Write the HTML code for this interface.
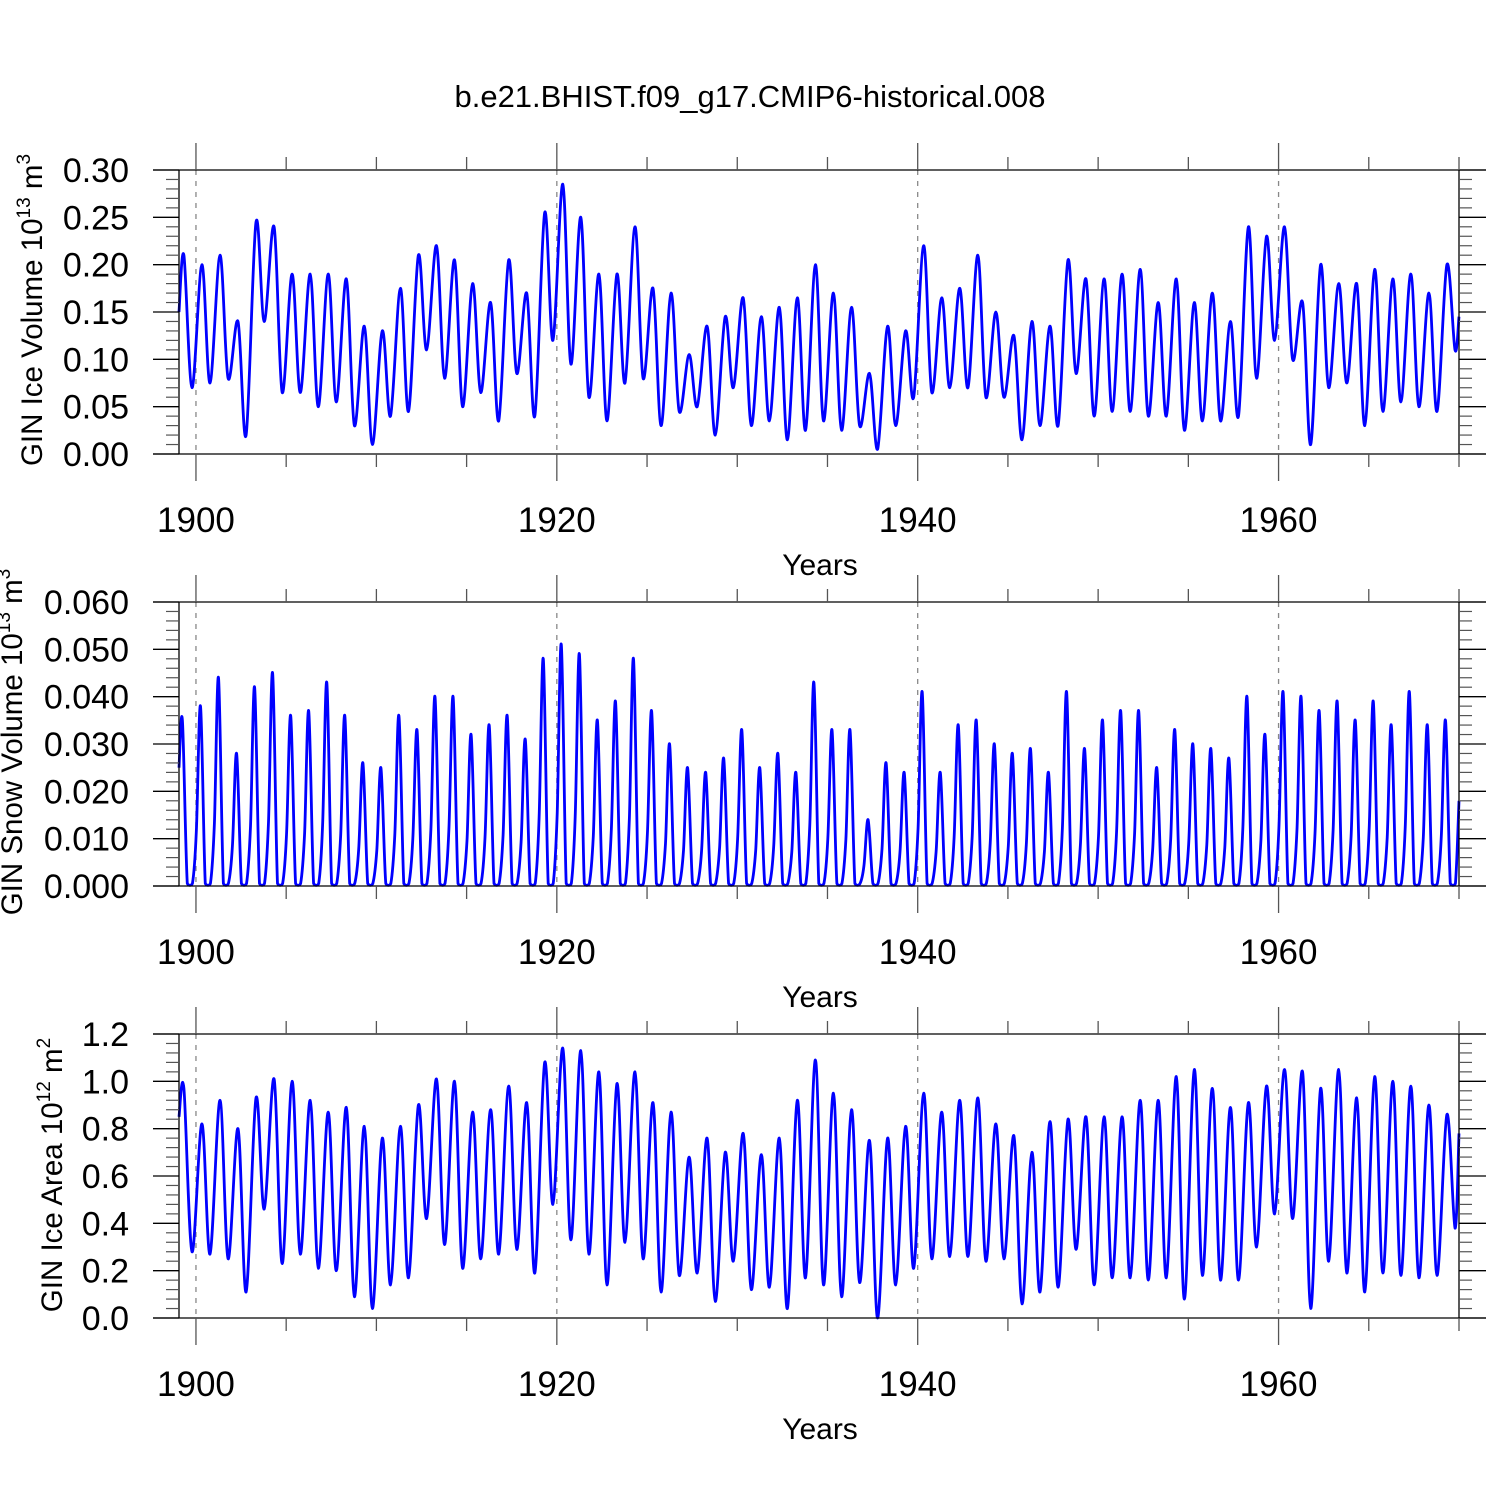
<!DOCTYPE html>
<html><head><meta charset="utf-8"><style>
html,body{margin:0;padding:0;background:#fff}
svg{display:block;font-family:"Liberation Sans",Arial,sans-serif}
</style></head><body>
<svg id="chart" width="1500" height="1500" viewBox="0 0 1500 1500" xmlns="http://www.w3.org/2000/svg">
<rect width="1500" height="1500" fill="#fff"/>
<text x="750" y="107" font-size="31" text-anchor="middle">b.e21.BHIST.f09_g17.CMIP6-historical.008</text>
</svg>
<script>
const years = [];
for (let y = 1899; y <= 1969; y++) years.push(y);
const xTickLabels = ["1900","1920","1940","1960"];
// Panel 1: ice volume (10^13 m^3)
const volPeak = [0.21,0.20,0.21,0.14,0.245,0.24,0.19,0.19,0.19,0.185,0.135,0.13,0.175,0.21,0.22,0.205,0.18,0.16,0.205,0.17,0.255,0.285,0.25,0.19,0.19,0.24,0.175,0.17,0.105,0.135,0.145,0.165,0.145,0.155,0.165,0.20,0.17,0.155,0.085,0.135,0.13,0.22,0.165,0.175,0.21,0.15,0.125,0.14,0.135,0.205,0.185,0.185,0.19,0.195,0.16,0.185,0.16,0.17,0.14,0.24,0.23,0.24,0.16,0.20,0.18,0.18,0.195,0.185,0.19,0.17,0.20];
const volMin = [0.07,0.075,0.08,0.02,0.14,0.065,0.065,0.05,0.055,0.03,0.01,0.04,0.045,0.11,0.08,0.05,0.065,0.035,0.085,0.04,0.12,0.095,0.06,0.035,0.075,0.08,0.03,0.045,0.05,0.02,0.07,0.03,0.035,0.015,0.025,0.035,0.025,0.03,0.005,0.03,0.06,0.065,0.07,0.07,0.06,0.06,0.015,0.03,0.03,0.085,0.04,0.045,0.045,0.04,0.04,0.025,0.035,0.035,0.04,0.08,0.12,0.10,0.01,0.07,0.075,0.03,0.045,0.055,0.05,0.045,0.11];
const volEnds = [0.15,0.145];
const volTicks = ["0.00","0.05","0.10","0.15","0.20","0.25","0.30"];
// Panel 2: snow volume (10^13 m^3)
const snowPeak = [0.035,0.038,0.044,0.028,0.042,0.045,0.036,0.037,0.043,0.036,0.026,0.025,0.036,0.033,0.040,0.040,0.032,0.034,0.036,0.031,0.048,0.051,0.049,0.035,0.039,0.048,0.037,0.030,0.025,0.024,0.027,0.033,0.025,0.028,0.024,0.043,0.033,0.033,0.014,0.026,0.024,0.041,0.024,0.034,0.035,0.030,0.028,0.029,0.024,0.041,0.029,0.035,0.037,0.037,0.025,0.033,0.030,0.029,0.027,0.040,0.032,0.041,0.040,0.037,0.039,0.035,0.039,0.034,0.041,0.034,0.035];
const snowMin = [0.0005,0.0005,0.0005,0.0005,0.0005,0.0005,0.0005,0.0005,0.0005,0.0005,0.0005,0.0005,0.0005,0.0005,0.0005,0.0005,0.0005,0.0005,0.0005,0.0005,0.0005,0.0005,0.0005,0.0005,0.0005,0.0005,0.0005,0.0005,0.0005,0.0005,0.0005,0.0005,0.0005,0.0005,0.0005,0.0005,0.0005,0.0005,0.0005,0.0005,0.0005,0.0005,0.0005,0.0005,0.0005,0.0005,0.0005,0.0005,0.0005,0.0005,0.0005,0.0005,0.0005,0.0005,0.0005,0.0005,0.0005,0.0005,0.0005,0.0005,0.0005,0.0005,0.0005,0.0005,0.0005,0.0005,0.0005,0.0005,0.0005,0.0005,0.0005];
const snowEnds = [0.025,0.018];
const snowTicks = ["0.000","0.010","0.020","0.030","0.040","0.050","0.060"];
// Panel 3: ice area (10^12 m^2)
const areaPeak = [0.97,0.82,0.92,0.80,0.93,1.01,1.0,0.92,0.87,0.89,0.81,0.76,0.81,0.90,1.01,1.0,0.87,0.88,0.98,0.91,1.08,1.14,1.13,1.04,0.99,1.04,0.91,0.87,0.68,0.76,0.70,0.78,0.69,0.76,0.92,1.09,0.95,0.88,0.75,0.76,0.81,0.95,0.87,0.92,0.93,0.82,0.77,0.70,0.83,0.84,0.85,0.85,0.85,0.92,0.92,1.02,1.05,0.97,0.89,0.91,0.98,1.05,1.04,0.97,1.05,0.93,1.02,1.0,0.98,0.90,0.86];
const areaMin = [0.28,0.27,0.25,0.11,0.46,0.23,0.27,0.21,0.20,0.09,0.04,0.14,0.17,0.42,0.31,0.21,0.25,0.27,0.29,0.19,0.48,0.33,0.27,0.14,0.32,0.25,0.11,0.18,0.19,0.07,0.24,0.12,0.13,0.04,0.17,0.14,0.09,0.15,0.0,0.14,0.21,0.25,0.26,0.26,0.24,0.25,0.06,0.11,0.13,0.29,0.14,0.17,0.17,0.16,0.17,0.08,0.18,0.16,0.16,0.30,0.44,0.42,0.04,0.24,0.19,0.11,0.19,0.18,0.17,0.18,0.38];
const areaEnds = [0.85,0.78];
const areaTicks = ["0.0","0.2","0.4","0.6","0.8","1.0","1.2"];

const NS = "http://www.w3.org/2000/svg";
const svg = document.getElementById("chart");
const X0 = 179, X1 = 1459, T0 = 1899.06, T1 = 1970.0;
function xs(t){ return X0 + (t - T0) / (T1 - T0) * (X1 - X0); }
function mk(tag, attrs, parent){ const e = document.createElementNS(NS, tag); for (const k in attrs) e.setAttribute(k, attrs[k]); (parent||svg).appendChild(e); return e; }

function panel(name, top, vmax, ticks, minorStep, peaks, mins, ends, snow, title, exp, titleX, titleCy){
  const bot = top + 284;
  const ys = v => bot - v / vmax * 284;
  const g = mk("g", {});
  
  
  [1900,1920,1940,1960].forEach(yr => {
    const l = mk("line", {x1: xs(yr), x2: xs(yr), y1: top, y2: bot, stroke: "#888", "stroke-width": 1.3, "stroke-dasharray": "5,6"}, g);
    
    
  });
  const pts = [[T0, ends[0]]];
  years.forEach((yr, i) => {
    if (snow) {
      pts.push([yr + 0.02, i === 0 ? ends[0] : peaks[i] * 0.3]);
      pts.push([yr + 0.25, peaks[i]]);
      pts.push([yr + 0.52, mins[i]]);
      pts.push([yr + 0.8, mins[i]]);
    } else {
      pts.push([yr + 0.33, peaks[i]]);
      pts.push([yr + 0.78, mins[i]]);
    }
  });
  pts.push([T1, ends[1]]);
  const P = pts.filter(p => p[0] >= T0).map(p => [xs(p[0]), ys(p[1])]);
  let d = "M" + P[0][0].toFixed(1) + "," + P[0][1].toFixed(1);
  for (let i = 0; i < P.length - 1; i++) {
    const p0 = P[Math.max(0, i - 1)], p1 = P[i], p2 = P[i + 1], p3 = P[Math.min(P.length - 1, i + 2)];
    let c1y = p1[1] + (p2[1] - p0[1]) / 6, c2y = p2[1] - (p3[1] - p1[1]) / 6;
    const lim = ys(0); c1y = Math.min(c1y, lim); c2y = Math.min(c2y, lim);
    d += " C" + (p1[0] + (p2[0] - p0[0]) / 6).toFixed(1) + "," + c1y.toFixed(1) + " " + (p2[0] - (p3[0] - p1[0]) / 6).toFixed(1) + "," + c2y.toFixed(1) + " " + p2[0].toFixed(1) + "," + p2[1].toFixed(1);
  }
  const line = mk("path", {d: d, fill: "none", stroke: "#0000ff", "stroke-width": 2.8, "stroke-linejoin": "round"}, g);
  
  
  const fr = mk("g", {stroke: "#000", "stroke-width": 1.3, fill: "none"}, g);
  
  
  mk("line", {x1: 153, x2: 1486, y1: top, y2: top}, fr);
  mk("line", {x1: 153, x2: 1486, y1: bot, y2: bot}, fr);
  mk("line", {x1: X0, x2: X0, y1: top, y2: bot}, fr);
  mk("line", {x1: X1, x2: X1, y1: top, y2: bot}, fr);
  const nMaj = ticks.length - 1;
  for (let i = 0; i <= nMaj; i++) {
    const v = vmax * i / nMaj, y = ys(v);
    mk("line", {x1: 153, x2: X0, y1: y, y2: y, stroke: "#000", "stroke-width": 1.3}, g);
    mk("line", {x1: X1, x2: 1486, y1: y, y2: y, stroke: "#000", "stroke-width": 1.3}, g);
    const t = mk("text", {x: 129, y: y + 12, "font-size": 34, "text-anchor": "end"}, g);
    t.textContent = ticks[i];
    
    
  }
  const nMin = Math.round(vmax / minorStep);
  for (let i = 1; i < nMin; i++) {
    if (i % 5 === 0) continue;
    const y = ys(i * minorStep);
    mk("line", {x1: 166, x2: X0, y1: y, y2: y, stroke: "#555", "stroke-width": 1.2}, g);
    mk("line", {x1: X1, x2: 1472, y1: y, y2: y, stroke: "#555", "stroke-width": 1.2}, g);
  }
  for (let yr = 1900; yr <= 1970; yr += 5) {
    const major = (yr - 1900) % 20 === 0, x = xs(yr), L = major ? 27 : 13;
    mk("line", {x1: x, x2: x, y1: top - L, y2: top, stroke: "#555", "stroke-width": 1.3}, g);
    mk("line", {x1: x, x2: x, y1: bot, y2: bot + L, stroke: "#555", "stroke-width": 1.3}, g);
  }
  xTickLabels.forEach(s => {
    const t = mk("text", {x: xs(+s), y: bot + 78, "font-size": 35, "text-anchor": "middle"}, g);
    t.textContent = s;
    
    
  });
  const xt = mk("text", {x: 820, y: bot + 121, "font-size": 30, "text-anchor": "middle"}, g);
  xt.textContent = "Years";
  
  
  const yt = mk("text", {x: 0, y: 0, "font-size": 29.5, "text-anchor": "middle", transform: "translate(" + (titleX + 10) + "," + titleCy + ") rotate(-90)"}, g);
  
  
  yt.appendChild(document.createTextNode(title + " 10"));
  const s1 = mk("tspan", {"font-size": 19, dy: -12}, yt); s1.textContent = exp;
  const s2 = mk("tspan", {dy: 12}, yt); s2.textContent = " m";
  const s3 = mk("tspan", {"font-size": 19, dy: -12}, yt); s3.textContent = exp === "12" ? "2" : "3";
}
panel("ice-volume", 170, 0.30, volTicks, 0.01, volPeak, volMin, volEnds, false, "GIN Ice Volume", "13", 32, 310);
panel("snow-volume", 602, 0.060, snowTicks, 0.002, snowPeak, snowMin, snowEnds, true, "GIN Snow Volume", "13", 12, 742);
panel("ice-area", 1034, 1.2, areaTicks, 0.04, areaPeak, areaMin, areaEnds, false, "GIN Ice Area", "12", 52, 1175);
</script>
</body></html>
